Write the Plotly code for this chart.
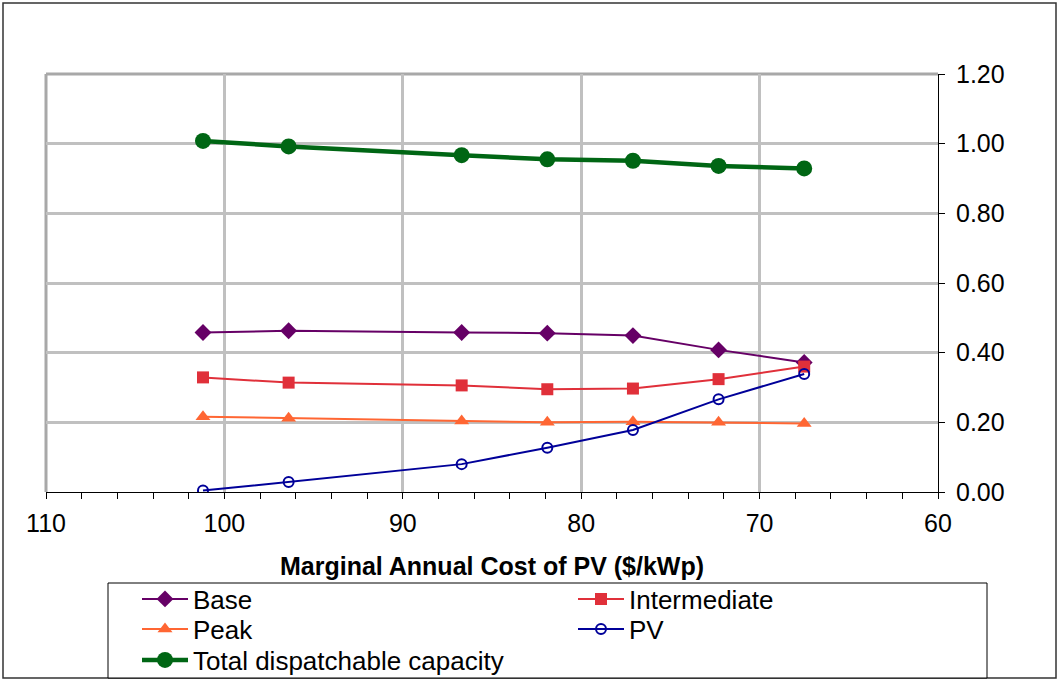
import plotly.graph_objects as go

# Marginal annual cost of PV ($/kWp)
pv_cost = [101.2, 96.4, 86.7, 81.9, 77.1, 72.3, 67.5]

base = [0.458, 0.463, 0.458, 0.456, 0.449, 0.408, 0.372]
intermediate = [0.329, 0.314, 0.306, 0.295, 0.297, 0.324, 0.360]
peak = [0.216, 0.212, 0.204, 0.200, 0.202, 0.200, 0.197]
pv = [0.004, 0.029, 0.080, 0.127, 0.178, 0.266, 0.339]
total = [1.008, 0.992, 0.967, 0.955, 0.951, 0.936, 0.929]

y_ticks = [0.0, 0.2, 0.4, 0.6, 0.8, 1.0, 1.2]
x_ticks = [110, 100, 90, 80, 70, 60]

FONT = "Liberation Sans, Arial, sans-serif"

L, R, T, B = 46, 119, 74, 187
W, H = 1057, 679
pw, ph = W - L - R, H - T - B


def px_x(p):
    return (p - L) / pw


def px_y(p):
    return (H - B - p) / ph


fig = go.Figure()

fig.add_trace(go.Scatter(
    x=pv_cost, y=base, name="Base", mode="lines+markers", legend="legend",
    line=dict(color="#660066", width=2),
    marker=dict(symbol="diamond", size=13, color="#660066"),
))
fig.add_trace(go.Scatter(
    x=pv_cost, y=intermediate, name="Intermediate", mode="lines+markers", legend="legend2",
    line=dict(color="#E0303A", width=2),
    marker=dict(symbol="square", size=12, color="#E0303A"),
))
fig.add_trace(go.Scatter(
    x=pv_cost, y=peak, name="Peak", mode="lines+markers", legend="legend3",
    line=dict(color="#FF6633", width=2),
    marker=dict(symbol="triangle-up", size=13, color="#FF6633"),
))
fig.add_trace(go.Scatter(
    x=pv_cost, y=pv, name="PV", mode="lines+markers", legend="legend4",
    line=dict(color="#000099", width=2),
    marker=dict(symbol="circle-open", size=10, color="#000099",
                line=dict(width=2, color="#000099")),
))
fig.add_trace(go.Scatter(
    x=pv_cost, y=total, name="Total dispatchable capacity", mode="lines+markers",
    legend="legend5",
    line=dict(color="#006614", width=4.5),
    marker=dict(symbol="circle", size=16, color="#006614"),
))

shapes = [
    # outer chart frame
    dict(type="rect", xref="paper", yref="paper",
         x0=px_x(3), x1=px_x(1056), y0=px_y(678), y1=px_y(3),
         line=dict(color="#333333", width=1.5), layer="below"),
    # plot-area border (top and left)
    dict(type="line", xref="paper", yref="paper", x0=0, x1=1, y0=1, y1=1,
         line=dict(color="#A8A8A8", width=3), layer="below"),
    dict(type="line", xref="paper", yref="paper", x0=0, x1=0, y0=0, y1=1,
         line=dict(color="#A8A8A8", width=3), layer="below"),
    # legend box
    dict(type="rect", xref="paper", yref="paper",
         x0=px_x(108), x1=px_x(987), y0=px_y(678), y1=px_y(583),
         line=dict(color="#000000", width=1), fillcolor="white", layer="below"),
]


def legend_at(cx, cy):
    # one legend entry whose symbol is centred at pixel (cx, cy)
    return dict(
        x=px_x(cx - 20), y=px_y(cy), xanchor="left", yanchor="middle",
        bgcolor="rgba(0,0,0,0)", borderwidth=0, itemwidth=46,
        font=dict(family=FONT, size=26, color="black"),
    )


fig.update_layout(
    width=W, height=H,
    margin=dict(l=L, r=R, t=T, b=B, autoexpand=False),
    paper_bgcolor="white", plot_bgcolor="white",
    font=dict(family=FONT, size=25, color="black"),
    shapes=shapes,
    xaxis=dict(
        range=[110, 60], tickvals=x_ticks, ticktext=[str(v) for v in x_ticks],
        showgrid=True, gridcolor="#C0C0C0", gridwidth=3,
        showline=True, linecolor="black", linewidth=1,
        ticks="outside", ticklen=6, tickcolor="black",
        minor=dict(dtick=2, ticks="outside", ticklen=6, tickcolor="black", showgrid=False),
        zeroline=False,
        tickfont=dict(size=25), ticklabelstandoff=3,
        title=dict(text="<b>Marginal Annual Cost of PV ($/kWp)</b>",
                   font=dict(size=25), standoff=21),
    ),
    yaxis=dict(
        range=[0, 1.2], side="right", tickvals=y_ticks,
        tickformat=".2f",
        showgrid=True, gridcolor="#C0C0C0", gridwidth=3,
        showline=True, linecolor="black", linewidth=1,
        ticks="outside", ticklen=6, tickcolor="black",
        zeroline=False, tickfont=dict(size=25), ticklabelstandoff=6,
    ),
    showlegend=True,
    legend=legend_at(157, 599),
    legend2=legend_at(593, 599),
    legend3=legend_at(157, 629),
    legend4=legend_at(593, 629),
    legend5=legend_at(157, 660),
)

fig.write_html("out.html")
